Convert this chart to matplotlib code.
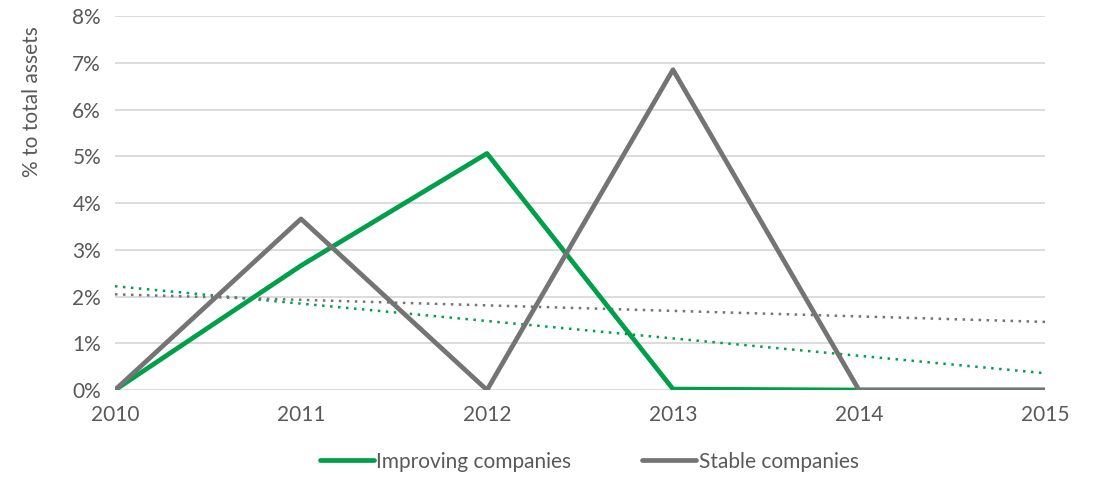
import numpy as np
import matplotlib
matplotlib.use('Agg')
import matplotlib.pyplot as plt
from matplotlib.ticker import PercentFormatter

years = [2010, 2011, 2012, 2013, 2014, 2015]
improving = [0.0, 2.66, 5.06, 0.02, 0.0, 0.0]
stable = [0.0, 3.66, 0.0, 6.85, 0.0, 0.0]

GREEN = '#00A04A'
GREY = '#747474'
TEXT = '#595959'

plt.rcParams['font.family'] = ['Lato', 'DejaVu Sans']


def main():
    fig = plt.figure(figsize=(10.97, 4.94), dpi=100)
    ax = fig.add_axes([0.1048, 0.2105, 0.8478, 0.7571])

    x = np.array(years)
    ax.plot(x, improving, color=GREEN, lw=3.4, label='Improving companies',
            solid_capstyle='round', zorder=3)
    ax.plot(x, stable, color=GREY, lw=3.4, label='Stable companies',
            solid_capstyle='round', zorder=4)

    # линейные тренды
    for ys, c in ((improving, GREEN), (stable, GREY)):
        k, b = np.polyfit(x, ys, 1)
        ax.plot(x, k * x + b, color=c, lw=1.8, ls=(0, (1, 2.2)), zorder=2)

    ax.set_xlim(2010, 2015)
    ax.set_ylim(0, 8)
    ax.set_xticks(years)
    ax.set_yticks(range(0, 9))
    ax.yaxis.set_major_formatter(PercentFormatter(decimals=0))
    ax.grid(axis='y', color='#D9D9D9', lw=1.3)
    ax.set_axisbelow(True)
    for s in ax.spines.values():
        s.set_visible(False)
    ax.tick_params(length=0, labelsize=15, colors=TEXT)
    ax.tick_params(axis='x', pad=11)
    ax.tick_params(axis='y', pad=10)
    ax.set_ylabel('% to total assets', fontsize=15, color=TEXT)
    ax.yaxis.set_label_coords(-0.078, 0.77)

    ax.legend(loc='upper center', bbox_to_anchor=(0.51, -0.115), ncol=2,
              frameon=False, fontsize=15, labelcolor=TEXT, handlelength=2.6,
              handletextpad=0.1, columnspacing=3.4)

    fig.savefig('out.png', dpi=100)


if __name__ == "__main__":
    main()
